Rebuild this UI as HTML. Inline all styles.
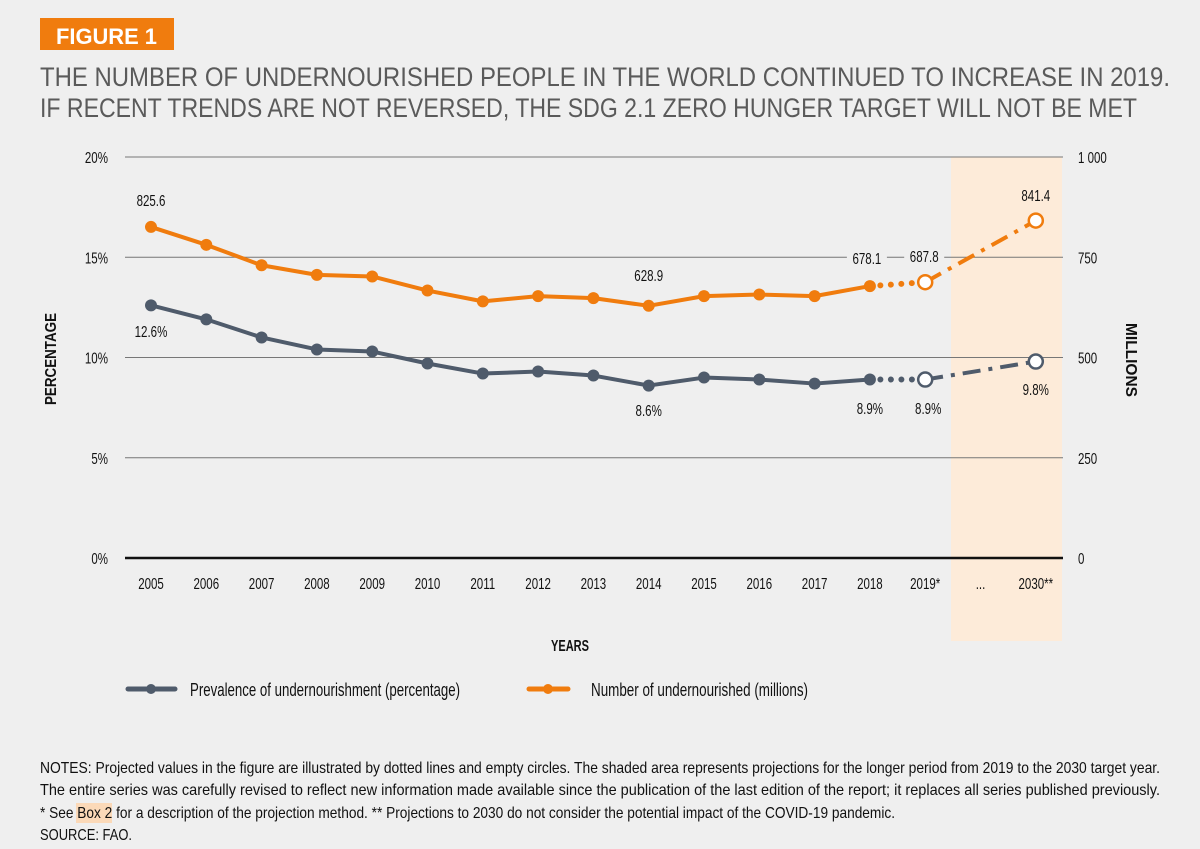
<!DOCTYPE html>
<html><head><meta charset="utf-8">
<style>
html,body{margin:0;padding:0;background:#efefef;}
svg{display:block;}
text{font-family:"Liberation Sans Narrow","Liberation Sans",sans-serif;fill:#111;}
.t{font-family:"Liberation Sans",sans-serif;fill:#5a5a5a;font-size:25px;}
</style></head><body>
<svg id="chart" width="1200" height="849" viewBox="0 0 1200 849" xmlns="http://www.w3.org/2000/svg">
<rect x="0" y="0" width="1200" height="849" fill="#efefef"/>
<rect x="40" y="18" width="134" height="32" fill="#f07c0e"/>
<text x="56" y="44" textLength="101" lengthAdjust="spacingAndGlyphs" style="font-family:'Liberation Sans',sans-serif;font-weight:bold;font-size:22px;fill:#fff">FIGURE 1</text>
<text class="t" x="40" y="86" textLength="1130" lengthAdjust="spacingAndGlyphs" style="font-size:27px">THE NUMBER OF UNDERNOURISHED PEOPLE IN THE WORLD CONTINUED TO INCREASE IN 2019.</text>
<text class="t" x="40" y="117" textLength="1097" lengthAdjust="spacingAndGlyphs" style="font-size:27px">IF RECENT TRENDS ARE NOT REVERSED, THE SDG 2.1 ZERO HUNGER TARGET WILL NOT BE MET</text>
<rect x="951" y="157" width="111" height="484" fill="#fdebd9"/>
<g id="grid"></g>
<g id="series"></g>
<g id="labels"></g>
<text x="56" y="359" transform="rotate(-90 56 359)" text-anchor="middle" textLength="92" lengthAdjust="spacingAndGlyphs" style="font-weight:bold;font-size:16px">PERCENTAGE</text>
<text x="1126" y="360" transform="rotate(90 1126 360)" text-anchor="middle" textLength="74" lengthAdjust="spacingAndGlyphs" style="font-weight:bold;font-size:16px">MILLIONS</text>
<text x="570" y="651" text-anchor="middle" textLength="38" lengthAdjust="spacingAndGlyphs" style="font-weight:bold;font-size:16px">YEARS</text>
<g>
<line x1="128" y1="689" x2="175" y2="689" stroke="#4f5b6b" stroke-width="5" stroke-linecap="round"/>
<circle cx="151" cy="689" r="5" fill="#4f5b6b"/>
<text x="190" y="696" textLength="270" lengthAdjust="spacingAndGlyphs" style="font-size:18px">Prevalence of undernourishment (percentage)</text>
</g>
<g>
<line x1="529" y1="689" x2="568" y2="689" stroke="#f07c0e" stroke-width="5" stroke-linecap="round"/>
<circle cx="548" cy="689" r="5" fill="#f07c0e"/>
<text x="591" y="696" textLength="217" lengthAdjust="spacingAndGlyphs" style="font-size:18px">Number of undernourished (millions)</text>
</g>
<g style="font-size:16px">
<text x="40" y="773" textLength="1120" lengthAdjust="spacingAndGlyphs">NOTES: Projected values in the figure are illustrated by dotted lines and empty circles. The shaded area represents projections for the longer period from 2019 to the 2030 target year.</text>
<text x="40" y="795" textLength="1120" lengthAdjust="spacingAndGlyphs">The entire series was carefully revised to reflect new information made available since the publication of the last edition of the report; it replaces all series published previously.</text>
<rect x="76" y="803" width="36" height="20" fill="#fbd9b8"/>
<text x="40" y="818" textLength="855" lengthAdjust="spacingAndGlyphs">* See Box 2 for a description of the projection method. ** Projections to 2030 do not consider the potential impact of the COVID-19 pandemic.</text>
<text x="40" y="840" textLength="92" lengthAdjust="spacingAndGlyphs">SOURCE: FAO.</text>
</g>
</svg>
<script>
const categories=["2005","2006","2007","2008","2009","2010","2011","2012","2013","2014","2015","2016","2017","2018","2019*","...","2030**"];
const pctValues=[12.6,11.9,11.0,10.4,10.3,9.7,9.2,9.3,9.1,8.6,9.0,8.9,8.7,8.9,8.9,null,9.8];
const millionValues=[825.6,781,730,706,702,667,640,653,648,628.9,653,657,653,678.1,687.8,null,841.4];
const leftTicks=[0,5,10,15,20];
const leftTickLabels=["0%","5%","10%","15%","20%"];
const rightTickLabels=["0","250","500","750","1 000"];
const NS="http://www.w3.org/2000/svg";
function xPos(i){return 151+i*55.3;}
function yPct(v){return 558-v*(401/20);}
function yMil(v){return 558-v*(401/1000);}
function mk(tag,attrs,parent){const e=document.createElementNS(NS,tag);for(const k in attrs)e.setAttribute(k,attrs[k]);parent.appendChild(e);return e;}
function narrow(t){const w=t.getComputedTextLength();t.setAttribute('textLength',(w*0.72).toFixed(1));t.setAttribute('lengthAdjust','spacingAndGlyphs');}
const grid=document.getElementById('grid'),ser=document.getElementById('series'),lab=document.getElementById('labels');
leftTicks.forEach((t,i)=>{
  const y=yPct(t);
  const l=mk('line',{x1:125,x2:1063,y1:y,y2:y,stroke:i===0?'#111':'#777','stroke-width':i===0?2.5:1},grid);
  
  
  const a=mk('text',{x:108,y:y+6,'text-anchor':'end','font-size':16},grid);a.textContent=leftTickLabels[i];
  
  
  narrow(a);
  const b=mk('text',{x:1078,y:y+6,'font-size':16},grid);b.textContent=rightTickLabels[i];
  
  
  narrow(b);
});
categories.forEach((c,i)=>{
  const t=mk('text',{x:xPos(i),y:589,'text-anchor':'middle','font-size':16},grid);t.textContent=c;
  
  
  narrow(t);
});
function drawSeries(vals,yf,color,name){
  let d='';
  for(let i=0;i<=13;i++){d+=(i?'L':'M')+xPos(i)+','+yf(vals[i]);}
  const p=mk('path',{d:d,fill:'none',stroke:color,'stroke-width':4,'stroke-linejoin':'round'},ser);
  
  
  const dot=mk('line',{x1:xPos(13),y1:yf(vals[13]),x2:xPos(14),y2:yf(vals[14]),stroke:color,'stroke-width':6,'stroke-linecap':'round','stroke-dasharray':'0 10.5'},ser);
  
  
  const dd=mk('line',{x1:xPos(14),y1:yf(vals[14]),x2:xPos(16),y2:yf(vals[16]),stroke:color,'stroke-width':4,'stroke-dasharray':'18 8 4 8'},ser);
  
  
  vals.forEach((v,i)=>{
    if(v===null)return;
    const open=i>=14;
    const c=mk('circle',{cx:xPos(i),cy:yf(v),r:open?7:6,fill:open?'#fff':color,stroke:color,'stroke-width':open?2.5:0},ser);
    
    
  });
}
drawSeries(pctValues,yPct,'#4f5b6b','prevalence');
drawSeries(millionValues,yMil,'#f07c0e','number');
function label(txt,x,y,bg){
  if(bg){const r=mk('rect',{x:x-20,y:y-15,width:40,height:20,fill:'#efefef'},lab);}
  const t=mk('text',{x:x,y:y+1,'text-anchor':'middle','font-size':16},lab);t.textContent=txt;
  
  
  narrow(t);
}
label(millionValues[0].toFixed(1),xPos(0),205);
label(millionValues[9].toFixed(1),xPos(9),280);
label(millionValues[13].toFixed(1),xPos(13)-3,263,true);
label(millionValues[14].toFixed(1),xPos(14)-1,261,true);
label(millionValues[16].toFixed(1),xPos(16),200);
label(pctValues[0].toFixed(1)+'%',xPos(0),336);
label(pctValues[9].toFixed(1)+'%',xPos(9),415);
label(pctValues[13].toFixed(1)+'%',xPos(13),413);
label(pctValues[14].toFixed(1)+'%',xPos(14)+3,413);
label(pctValues[16].toFixed(1)+'%',xPos(16),394);
</script>
</body></html>
